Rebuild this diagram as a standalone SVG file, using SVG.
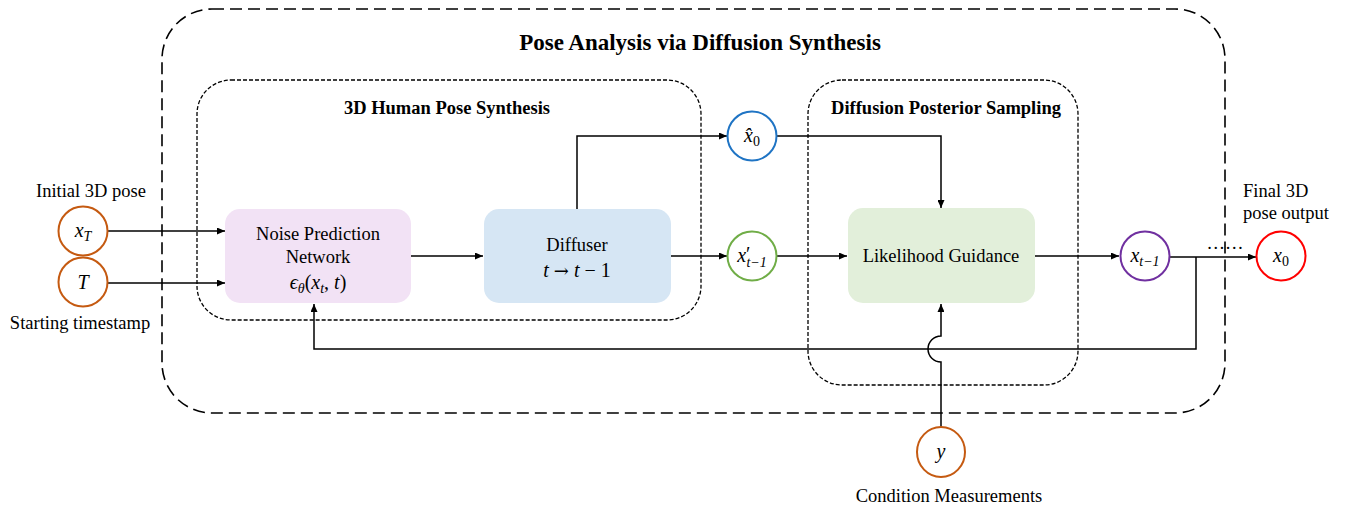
<svg xmlns="http://www.w3.org/2000/svg" width="1346" height="506" viewBox="0 0 1346 506">
<style>
.lbl{font-family:"Liberation Serif",serif;font-size:18.5px;fill:#000}
.bold{font-family:"Liberation Serif",serif;font-weight:bold;fill:#000}
.math{font-family:"Liberation Serif",serif;font-style:italic;font-size:20px;fill:#000}
.sub{font-size:14px}
.conn{fill:none;stroke:#000;stroke-width:1.5}
.node{fill:#fff;stroke-width:2}
</style>
<defs>
<marker id="arr" markerWidth="8" markerHeight="7" refX="8" refY="3.5" orient="auto" markerUnits="userSpaceOnUse">
<path d="M0,0 L8,3.5 L0,7 z" fill="#000"/>
</marker>
</defs>
<g id="containers">
<rect x="162" y="9" width="1063" height="404" rx="50" ry="50" fill="none" stroke="#000" stroke-width="1.6" stroke-dasharray="12,6"/>
<text class="bold" x="700" y="50" font-size="23" text-anchor="middle">Pose Analysis via Diffusion Synthesis</text>
<rect x="197" y="80" width="504" height="240" rx="34" ry="34" fill="none" stroke="#000" stroke-width="1.3" stroke-dasharray="4,2"/>
<text class="bold" x="447" y="114" font-size="18.5" text-anchor="middle">3D Human Pose Synthesis</text>
<rect x="808" y="80" width="270" height="305" rx="34" ry="34" fill="none" stroke="#000" stroke-width="1.3" stroke-dasharray="4,2"/>
<text class="bold" x="946" y="114" font-size="18.5" text-anchor="middle">Diffusion Posterior Sampling</text>
</g>
<g id="connectors">
<path class="conn" d="M108,231 L225,231" marker-end="url(#arr)"/>
<path class="conn" d="M108,283 L225,283" marker-end="url(#arr)"/>
<path class="conn" d="M411,256 L483,256" marker-end="url(#arr)"/>
<path class="conn" d="M577,209 L577,136 L727,136" marker-end="url(#arr)"/>
<path class="conn" d="M777,136 L941,136 L941,208" marker-end="url(#arr)"/>
<path class="conn" d="M671,256 L727,256" marker-end="url(#arr)"/>
<path class="conn" d="M777,256 L847,256" marker-end="url(#arr)"/>
<path class="conn" d="M1035,256 L1119,256" marker-end="url(#arr)"/>
<path class="conn" d="M1170,257 L1256,257" marker-end="url(#arr)"/>
<path class="conn" d="M1196,257 L1196,349 L314,349 L314,304" marker-end="url(#arr)"/>
<path class="conn" d="M941,427 L941,362 A13,13 0 0 1 941,336 L941,304" marker-end="url(#arr)"/>
<text class="lbl" x="1225" y="249" font-size="17" text-anchor="middle">……</text>
</g>
<g id="noise">
<rect x="225" y="209" width="186" height="94" rx="15" ry="15" fill="#f2e2f5"/>
<text class="lbl" x="318" y="240" text-anchor="middle">Noise Prediction</text>
<text class="lbl" x="318" y="263" text-anchor="middle">Network</text>
<text class="math" x="318" y="289" text-anchor="middle">ϵ<tspan class="sub" dy="4">θ</tspan><tspan dy="-4" font-style="normal">(</tspan>x<tspan class="sub" dy="4">t</tspan><tspan dy="-4" font-style="normal">, </tspan>t<tspan font-style="normal">)</tspan></text>
</g>
<g id="diffuser">
<rect x="484" y="209" width="187" height="94" rx="15" ry="15" fill="#d6e6f4"/>
<text class="lbl" x="577" y="251" text-anchor="middle">Diffuser</text>
<text class="math" x="577" y="277" text-anchor="middle" font-size="21">t <tspan font-style="normal" font-family="DejaVu Serif, serif" font-size="18">→</tspan> t <tspan font-style="normal">− 1</tspan></text>
</g>
<g id="likelihood">
<rect x="848" y="208" width="187" height="95" rx="15" ry="15" fill="#e2efda"/>
<text class="lbl" x="941" y="262" text-anchor="middle">Likelihood Guidance</text>
</g>
<g id="xT">
<circle class="node" cx="83" cy="231" r="24.5" stroke="#c55a11"/>
<text class="math" x="83" y="237" text-anchor="middle">x<tspan class="sub" dy="4">T</tspan></text>
<text class="lbl" x="91" y="197" text-anchor="middle">Initial 3D pose</text>
</g>
<g id="T">
<circle class="node" cx="83" cy="282" r="24.5" stroke="#c55a11"/>
<text class="math" x="83" y="289" text-anchor="middle">T</text>
<text class="lbl" x="80" y="329" text-anchor="middle">Starting timestamp</text>
</g>
<g id="x0hat">
<circle class="node" cx="752" cy="136" r="24.5" stroke="#1f74c4"/>
<text class="math" x="752" y="142" text-anchor="middle">x̂<tspan class="sub" dy="4" font-style="normal">0</tspan></text>
</g>
<g id="xprime">
<circle class="node" cx="752" cy="256" r="24.5" stroke="#70ad47"/>
<text class="math" x="752" y="262" text-anchor="middle">x<tspan font-style="normal" dy="-1">′</tspan><tspan class="sub" dx="-4" dy="6">t−1</tspan></text>
</g>
<g id="xtm1">
<circle class="node" cx="1145" cy="256" r="24.5" stroke="#7030a0"/>
<text class="math" x="1145" y="262" text-anchor="middle">x<tspan class="sub" dy="4">t−1</tspan></text>
</g>
<g id="x0">
<circle class="node" cx="1281" cy="256" r="24.5" stroke="#ff0000"/>
<text class="math" x="1281" y="262" text-anchor="middle">x<tspan class="sub" dy="4" font-style="normal">0</tspan></text>
<text class="lbl" x="1243" y="197">Final 3D</text>
<text class="lbl" x="1243" y="219">pose output</text>
</g>
<g id="y">
<ellipse class="node" cx="941" cy="452" rx="24" ry="25" stroke="#c55a11"/>
<text class="math" x="941" y="458" text-anchor="middle">y</text>
<text class="lbl" x="949" y="502" text-anchor="middle">Condition Measurements</text>
</g>
</svg>
